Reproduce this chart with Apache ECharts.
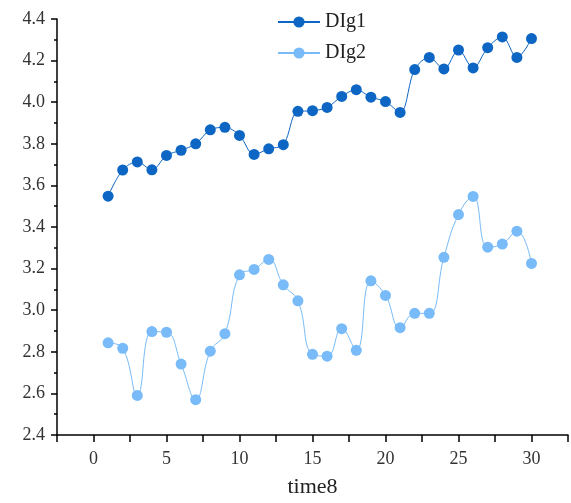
<!DOCTYPE html>
<html>
<head>
<meta charset="utf-8">
<script src="https://cdn.jsdelivr.net/npm/echarts@6/dist/echarts.min.js"></script>
<style>html,body{margin:0;padding:0;background:#fff;overflow:hidden}#c{width:571px;height:503px}</style>
</head>
<body>
<div id="c"></div>
<script>
var xs = [1,2,3,4,5,6,7,8,9,10,11,12,13,14,15,16,17,18,19,20,21,22,23,24,25,26,27,28,29,30];
var dig1 = [3.548,3.674,3.713,3.675,3.744,3.769,3.800,3.867,3.879,3.840,3.749,3.776,3.796,3.956,3.959,3.975,4.028,4.060,4.024,4.003,3.951,4.157,4.215,4.160,4.251,4.165,4.262,4.314,4.215,4.306];
var dig2 = [2.843,2.817,2.590,2.897,2.894,2.741,2.570,2.803,2.887,3.170,3.196,3.244,3.122,3.045,2.788,2.779,2.911,2.807,3.141,3.071,2.916,2.985,2.985,3.254,3.460,3.547,3.303,3.318,3.380,3.225];
var seriesNames = ['DIg1','DIg2'];
var xName = 'time8';

function pairs(v){ return xs.map(function(x,i){ return [x, v[i]]; }); }
var font = "'Liberation Serif', 'DejaVu Serif', serif";
var c1 = '#0d66c4', c2 = '#78bbf8';
var chart = echarts.init(document.getElementById('c'));
chart.setOption({
  animation: false,
  backgroundColor: '#fff',
  grid: {left: 57, right: 2, top: 19, bottom: 54, containLabel: false},
  legend: {
    orient: 'vertical', left: 272, top: 7,
    itemWidth: 42, itemHeight: 14, itemGap: 11,
    textStyle: {fontFamily: font, fontSize: 20, color: '#222'},
    data: seriesNames
  },
  xAxis: {
    type: 'value', min: -2.5, max: 32.5, interval: 2.5,
    name: xName, nameLocation: 'middle', nameGap: 41,
    nameTextStyle: {fontFamily: font, fontSize: 22, color: '#222'},
    axisLine: {show: true, onZero: false, lineStyle: {color: '#000', width: 1.5}},
    axisTick: {show: true, inside: false, length: 7, lineStyle: {color: '#000', width: 1.5}},
    axisLabel: {
      margin: 15, fontFamily: font, fontSize: 18, color: '#333',
      formatter: function(v){ return (Math.abs(v % 5) < 1e-9) ? String(v) : ''; }
    },
    splitLine: {show: false}
  },
  yAxis: {
    type: 'value', min: 2.4, max: 4.4, interval: 0.2,
    axisLine: {show: true, onZero: false, lineStyle: {color: '#000', width: 1.5}},
    axisTick: {show: true, inside: false, length: 6, lineStyle: {color: '#000', width: 1.5}},
    minorTick: {show: true, splitNumber: 2, length: 3, lineStyle: {color: '#000', width: 1.5}},
    axisLabel: {
      margin: 12, fontFamily: font, fontSize: 18, color: '#333',
      formatter: function(v){ return v.toFixed(1); }
    },
    splitLine: {show: false}
  },
  series: [
    {name: seriesNames[0], type: 'line', data: pairs(dig1), smooth: 0.35,
     symbol: 'circle', symbolSize: 11, color: c1,
     lineStyle: {width: 1, color: c1}, itemStyle: {color: c1}},
    {name: seriesNames[1], type: 'line', data: pairs(dig2), smooth: 0.45,
     symbol: 'circle', symbolSize: 11, color: c2,
     lineStyle: {width: 1, color: c2}, itemStyle: {color: c2}}
  ]
});
</script>
</body>
</html>
